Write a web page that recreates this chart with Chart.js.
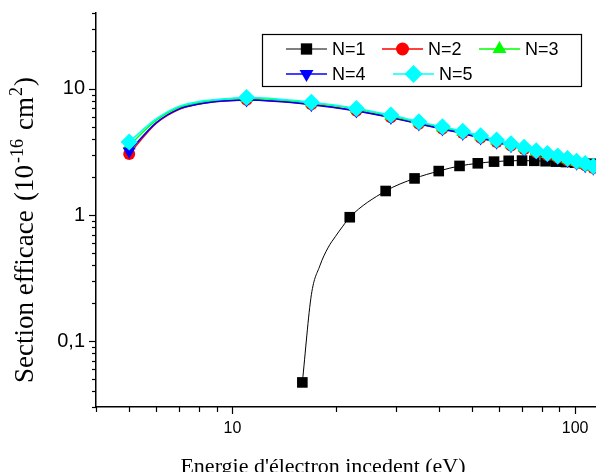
<!DOCTYPE html>
<html>
<head>
<meta charset="utf-8">
<script src="https://cdn.jsdelivr.net/npm/chart.js@4.4.1/dist/chart.umd.min.js"></script>
<style>
  html, body { margin: 0; padding: 0; background: #fff; overflow: hidden; width: 596px; height: 472px; }
  #chart { display: block; }
</style>
</head>
<body>
<!-- a few px wider than the window: the plot runs off the right edge as in the figure -->
<canvas id="chart" width="607" height="472"></canvas>
<script>
        // Energies (eV) and cross sections (1e-16 cm^2)
        const energiesHigh = [5, 6, 7, 8, 9, 10, 11, 17, 23, 29, 35, 41, 47, 53, 59, 65, 71, 77, 83, 89, 95, 101, 107, 113];
        const lineOnlyHigh = [6, 7, 8, 9, 10];
        const valuesN2 = [3.05, 5.35, 6.9, 7.6, 7.95, 8.1, 8.2, 7.55, 6.7, 5.95, 5.3, 4.83, 4.46, 4.1, 3.8, 3.56, 3.33, 3.13, 2.98, 2.85, 2.71, 2.59, 2.48, 2.36];
        const valuesN3 = [3.55, 5.65, 7.15, 7.8, 8.15, 8.35, 8.45, 7.75, 6.9, 6.1, 5.42, 4.93, 4.55, 4.19, 3.88, 3.63, 3.4, 3.19, 3.03, 2.9, 2.76, 2.63, 2.52, 2.4];
        const valuesN4 = [3.2, 5.4, 6.95, 7.6, 7.95, 8.1, 8.15, 7.5, 6.68, 5.92, 5.28, 4.8, 4.43, 4.08, 3.78, 3.54, 3.31, 3.11, 2.96, 2.83, 2.7, 2.57, 2.46, 2.35];
        const valuesN5 = [3.8, 5.8, 7.3, 7.95, 8.25, 8.45, 8.55, 7.85, 7.0, 6.2, 5.5, 5.0, 4.62, 4.25, 3.93, 3.68, 3.45, 3.23, 3.07, 2.94, 2.8, 2.67, 2.56, 2.43];

        const energiesN1 = [16, 17, 18, 19, 20, 21, 22, 28, 34, 40, 46, 52, 58, 64, 70, 76, 82, 88, 94, 100, 106, 112];
        const lineOnlyN1 = [17, 18, 19, 20, 21];
        const valuesN1 = [0.047, 0.233, 0.396, 0.548, 0.678, 0.815, 0.96, 1.55, 1.95, 2.23, 2.45, 2.57, 2.65, 2.69, 2.7, 2.69, 2.67, 2.65, 2.63, 2.6, 2.57, 2.55];

        const xTickLabels = { 10: '10', 100: '100' };
        const yTickLabels = { '0.1': '0,1', '1': '1', '10': '10' };

        const X_TITLE = "Energie d'électron incedent (eV)";

        const series = [
            { label: 'N=1', x: energiesN1, y: valuesN1, skip: lineOnlyN1, color: '#000000', style: 'rect', radius: 7.5, width: 1 },
            { label: 'N=2', x: energiesHigh, y: valuesN2, skip: lineOnlyHigh, color: '#ff0000', style: 'circle', radius: 6, width: 1.5 },
            { label: 'N=3', x: energiesHigh, y: valuesN3, skip: lineOnlyHigh, color: '#00ff00', style: 'triangle', radius: 7.5, width: 1.5 },
            { label: 'N=4', x: energiesHigh, y: valuesN4, skip: lineOnlyHigh, color: '#0000ff', style: 'triangleDown', radius: 7.5, width: 1.5 },
            { label: 'N=5', x: energiesHigh, y: valuesN5, skip: lineOnlyHigh, color: '#00ffff', style: 'rectRot', radius: 8.5, width: 1.5 }
        ];

        function near(a, b) {
            return Math.abs(a - b) < 1e-9 * Math.max(1, Math.abs(b));
        }

        function drawMarker(ctx, style, x, y, r, color) {
            ctx.save();
            ctx.fillStyle = color;
            ctx.beginPath();
            if (style === 'rect') {
                const s = r * Math.SQRT1_2;
                ctx.rect(x - s, y - s, 2 * s, 2 * s);
            } else if (style === 'circle') {
                ctx.arc(x, y, r, 0, Math.PI * 2);
            } else if (style === 'triangle' || style === 'triangleDown') {
                const d = style === 'triangle' ? 1 : -1;
                ctx.moveTo(x, y - d * r);
                ctx.lineTo(x + r * 0.866, y + d * r * 0.5);
                ctx.lineTo(x - r * 0.866, y + d * r * 0.5);
                ctx.closePath();
            } else if (style === 'rectRot') {
                ctx.moveTo(x - r, y);
                ctx.lineTo(x, y - r);
                ctx.lineTo(x + r, y);
                ctx.lineTo(x, y + r);
                ctx.closePath();
            }
            ctx.fill();
            ctx.restore();
        }

        // Origin-style tick marks, legend and rotated y title with superscripts
        const decorPlugin = {
            id: 'decor',
            afterDraw(chart) {
                const ctx = chart.ctx;
                const area = chart.chartArea;
                const xs = chart.scales.x, ys = chart.scales.y;
                ctx.save();
                ctx.strokeStyle = '#000';
                ctx.lineWidth = 1.2;

                // x ticks (outward, below axis)
                for (let dec = 1; dec <= 100; dec *= 10) {
                    for (let m = 1; m <= 9; m++) {
                        const v = m * dec;
                        if (v < xs.min || v > xs.max) continue;
                        const px = Math.round(xs.getPixelForValue(v)) + 0.5;
                        const len = m === 1 ? 7 : 5;
                        ctx.beginPath();
                        ctx.moveTo(px, area.bottom);
                        ctx.lineTo(px, area.bottom + len);
                        ctx.stroke();
                    }
                }
                // y ticks (outward, left of axis)
                for (let dec = 0.01; dec <= 10.0001; dec *= 10) {
                    for (let m = 1; m <= 9; m++) {
                        const v = m * dec;
                        if (v < ys.min * 0.999 || v > ys.max * 1.001) continue;
                        const py = Math.round(ys.getPixelForValue(v)) + 0.5;
                        const len = m === 1 ? 7 : 4;
                        ctx.beginPath();
                        ctx.moveTo(area.left, py);
                        ctx.lineTo(area.left - len, py);
                        ctx.stroke();
                    }
                }

                // legend
                ctx.fillStyle = '#fff';
                ctx.fillRect(262, 34, 320, 52);
                ctx.lineWidth = 1.2;
                ctx.strokeRect(262.5, 34.5, 319, 52);
                const slots = [
                    { lx: 286, rowY: 49 }, { lx: 382, rowY: 49 }, { lx: 479, rowY: 49 },
                    { lx: 286, rowY: 74 }, { lx: 393, rowY: 74 }
                ];
                ctx.font = '18px "Liberation Sans", Arial, sans-serif';
                ctx.textBaseline = 'middle';
                ctx.textAlign = 'left';
                series.forEach((s, i) => {
                    const slot = slots[i];
                    ctx.strokeStyle = s.color;
                    ctx.lineWidth = s.width;
                    ctx.beginPath();
                    ctx.moveTo(slot.lx, slot.rowY);
                    ctx.lineTo(slot.lx + 41, slot.rowY);
                    ctx.stroke();
                    drawMarker(ctx, s.style, slot.lx + 20.5, slot.rowY, s.radius + 0.5, s.color);
                    ctx.fillStyle = '#000';
                    ctx.fillText(s.label, slot.lx + 46, slot.rowY + 1);
                });

                // x title
                ctx.font = '22px "Liberation Serif", "Times New Roman", serif';
                ctx.textAlign = 'center';
                ctx.textBaseline = 'alphabetic';
                ctx.fillText(X_TITLE, 323, 473);

                // y title, rotated, with superscripts (pieces spaced as in the figure)
                ctx.translate(33, 383);
                ctx.rotate(-Math.PI / 2);
                ctx.textAlign = 'left';
                const big = '27px "Liberation Serif", "Times New Roman", serif';
                const small = '18px "Liberation Serif", "Times New Roman", serif';
                const pieces = [
                    ['Section efficace', 0, 0, big],
                    ['(10', 182, 0, big],
                    ['-16', 220, -10, small],
                    ['cm', 253, 0, big],
                    ['2', 287, -11, small],
                    [')', 297, 0, big]
                ];
                pieces.forEach(([text, at, dy, font]) => {
                    ctx.font = font;
                    ctx.fillText(text, at, dy);
                });
                ctx.restore();
            }
        };

        const datasets = series.map((s, i) => ({
            label: s.label,
            data: s.x.map((e, k) => ({ x: e, y: s.y[k] })),
            borderColor: s.color,
            backgroundColor: s.color,
            borderWidth: s.width,
            pointStyle: s.style === 'triangleDown' ? 'triangle' : s.style,
            pointRotation: s.style === 'triangleDown' ? 180 : 0,
            pointRadius: ctx => (ctx.raw && s.skip.includes(ctx.raw.x)) ? 0 : s.radius,
            pointBorderWidth: 0,
            pointHoverRadius: 0,
            cubicInterpolationMode: 'monotone',
            order: series.length - i,
            clip: false
        }));

        const chart = new Chart(document.getElementById('chart').getContext('2d'), {
            type: 'line',
            data: { datasets },
            options: {
                responsive: false,
                animation: false,
                events: [],
                layout: { padding: { top: 13, right: 0, bottom: 0, left: 0 } },
                plugins: { legend: { display: false }, tooltip: { enabled: false } },
                scales: {
                    x: {
                        type: 'logarithmic',
                        position: 'bottom',
                        min: 4,
                        max: 117,
                        afterFit: scale => {
                            scale.height = 65;
                            scale.paddingLeft = 0;
                            scale.paddingRight = 0;
                        },
                        grid: { display: false, drawTicks: false },
                        border: { display: true, color: '#000', width: 1.5 },
                        ticks: {
                            autoSkip: false,
                            maxRotation: 0,
                            padding: 12,
                            color: '#000',
                            font: { family: '"Liberation Sans", Arial, sans-serif', size: 16 },
                            callback: value => {
                                for (const k in xTickLabels) if (near(value, Number(k))) return xTickLabels[k];
                                return '';
                            }
                        }
                    },
                    y: {
                        type: 'logarithmic',
                        position: 'left',
                        min: 0.03,
                        max: 40,
                        afterFit: scale => {
                            scale.width = 96;
                            scale.paddingTop = 0;
                            scale.paddingBottom = 0;
                        },
                        grid: { display: false, drawTicks: false },
                        border: { display: true, color: '#000', width: 1.5 },
                        ticks: {
                            autoSkip: false,
                            padding: 11,
                            color: '#000',
                            font: { family: '"Liberation Sans", Arial, sans-serif', size: 20 },
                            callback: value => {
                                for (const k in yTickLabels) if (near(value, Number(k))) return yTickLabels[k];
                                return '';
                            }
                        }
                    }
                }
            },
            plugins: [decorPlugin]
        });
</script>
</body>
</html>
